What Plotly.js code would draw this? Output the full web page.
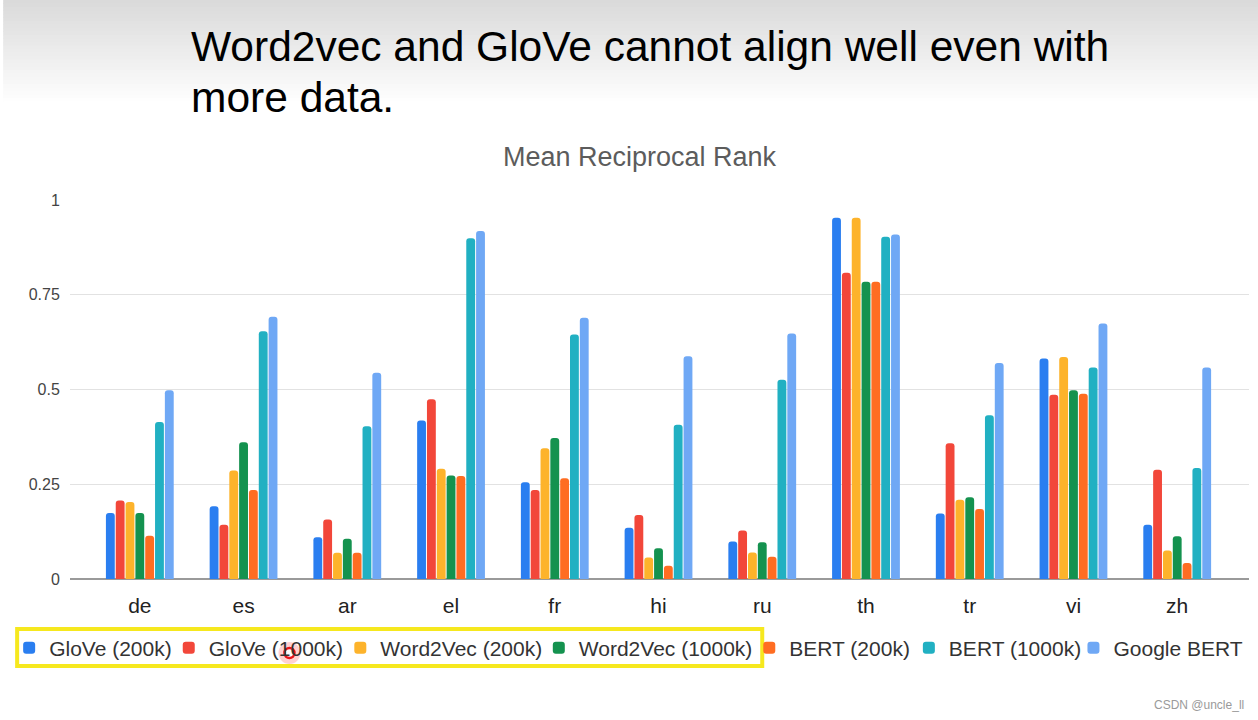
<!DOCTYPE html>
<html>
<head>
<meta charset="utf-8">
<script src="https://cdn.plot.ly/plotly-3.0.1.min.js"></script>
<style>
html,body{margin:0;padding:0;background:#fff;}
#chart{width:1258px;height:720px;}
</style>
</head>
<body>
<div id="chart"></div>
<script>
// ---- data ----
const categories = ['de','es','ar','el','fr','hi','ru','th','tr','vi','zh'];
const seriesNames = ['GloVe (200k)','GloVe (1000k)','Word2Vec (200k)','Word2Vec (1000k)','BERT (200k)','BERT (1000k)','Google BERT'];
const glove200   = [0.174,0.192,0.110,0.418,0.255,0.135,0.099,0.953,0.173,0.582,0.143];
const glove1000  = [0.207,0.143,0.157,0.474,0.235,0.169,0.128,0.808,0.358,0.486,0.288];
const w2v200     = [0.203,0.286,0.069,0.291,0.345,0.057,0.070,0.953,0.209,0.586,0.075];
const w2v1000    = [0.174,0.361,0.106,0.273,0.372,0.081,0.097,0.784,0.216,0.498,0.113];
const bert200    = [0.114,0.235,0.069,0.272,0.266,0.035,0.059,0.784,0.185,0.489,0.042];
const bert1000   = [0.414,0.654,0.403,0.899,0.645,0.407,0.526,0.903,0.432,0.558,0.293];
const googleBert = [0.498,0.692,0.544,0.918,0.689,0.588,0.648,0.909,0.570,0.674,0.558];
const yTickVals  = [0, 0.25, 0.5, 0.75, 1];
const yTickText  = ['0', '0.25', '0.5', '0.75', '1'];
const slideTitle1 = 'Word2vec and GloVe cannot align well even with';
const slideTitle2 = 'more data.';
const chartTitle = 'Mean Reciprocal Rank';
const watermark = 'CSDN @uncle_ll';

// ---- styling ----
const colors = ['#2a7ef0','#f2473a','#fdb32b','#14924f','#ff6d22','#21b0c2','#6fa8f5'];
const values = [glove200, glove1000, w2v200, w2v1000, bert200, bert1000, googleBert];
const FONT = 'Liberation Sans, Arial, sans-serif';

const W = 1258, H = 720;
const L = 67, R = 9, T = 200, B = 141;
const PW = W - L - R, PH = H - T - B;
const px = x => (x - L) / PW;
const py = y => (H - B - y) / PH;

const legendTextStart = [46, 206, 378, 577, 788, 948, 1113];

const traces = values.map((v, i) => ({
  type: 'bar',
  name: seriesNames[i],
  x: categories,
  y: v,
  marker: {color: colors[i], cornerradius: 3},
  legend: i === 0 ? 'legend' : 'legend' + (i + 1),
  showlegend: true,
  hoverinfo: 'skip'
}));

const layout = {
  width: W, height: H,
  margin: {l: L, r: R, t: T, b: B, pad: 0},
  paper_bgcolor: '#ffffff',
  plot_bgcolor: '#ffffff',
  showlegend: true,
  barmode: 'group',
  bargap: 0.337,
  bargroupgap: 0.1,
  font: {family: FONT, color: '#333'},
  xaxis: {
    type: 'category',
    range: [-0.673, 10.692],
    showgrid: false,
    showline: false,
    zeroline: false,
    ticks: 'outside', ticklen: 8, tickcolor: 'rgba(0,0,0,0)',
    tickfont: {family: FONT, size: 21, color: '#222'},
    fixedrange: true
  },
  yaxis: {
    range: [0, 1],
    tickvals: yTickVals,
    ticktext: yTickText,
    showgrid: true,
    gridcolor: '#e2e2e2',
    gridwidth: 1,
    zeroline: true,
    zerolinecolor: '#9a9a9a',
    zerolinewidth: 1.5,
    showline: false,
    ticks: 'outside', ticklen: 6, tickcolor: 'rgba(0,0,0,0)',
    tickfont: {family: FONT, size: 16, color: '#444'},
    fixedrange: true
  },
  shapes: [],
  annotations: [
    {text: slideTitle1, xref: 'paper', yref: 'paper', x: px(186), y: py(46), xanchor: 'left', yanchor: 'middle',
     showarrow: false, font: {family: FONT, size: 42.5, color: '#000'}},
    {text: slideTitle2, xref: 'paper', yref: 'paper', x: px(186), y: py(97), xanchor: 'left', yanchor: 'middle',
     showarrow: false, font: {family: FONT, size: 42.5, color: '#000'}},
    {text: chartTitle, xref: 'paper', yref: 'paper', x: px(638), y: py(157), xanchor: 'center', yanchor: 'middle',
     showarrow: false, font: {family: FONT, size: 27, color: '#5c5c5c'}},
    {text: watermark, xref: 'paper', yref: 'paper', x: px(1246), y: py(705), xanchor: 'right', yanchor: 'middle',
     showarrow: false, font: {family: FONT, size: 12, color: '#9a9a9a'}}
  ]
};

// top grey gradient band (slide background)
const nb = 30, gTop = 0, gBot = 105;
for (let k = 0; k < nb; k++) {
  const t = k / (nb - 1);
  const c = Math.round(218 + (255 - 218) * t);
  layout.shapes.push({
    type: 'rect', xref: 'paper', yref: 'paper', layer: 'below',
    x0: px(0), x1: px(W), y0: py(gTop + (k + 1) * (gBot - gTop) / nb + 0.5), y1: py(gTop + k * (gBot - gTop) / nb),
    line: {width: 0}, fillcolor: `rgb(${c},${c},${c})`
  });
}

// yellow highlight box around first four legend items
layout.shapes.push({
  type: 'rect', xref: 'paper', yref: 'paper', layer: 'above',
  x0: px(14), x1: px(761), y0: py(666), y1: py(629),
  line: {color: '#f6e81e', width: 4}, fillcolor: 'rgba(0,0,0,0)'
});
// red cursor marker
layout.shapes.push({
  type: 'circle', xref: 'paper', yref: 'paper', layer: 'above',
  x0: px(276), x1: px(298), y0: py(664), y1: py(642),
  line: {width: 0}, fillcolor: 'rgba(255,90,90,0.28)'
});
layout.shapes.push({
  type: 'circle', xref: 'paper', yref: 'paper', layer: 'above',
  x0: px(282), x1: px(292), y0: py(658), y1: py(648),
  line: {color: '#e8141a', width: 2.5}, fillcolor: 'rgba(255,255,255,0.9)'
});

// one legend per series to place items like the reference
legendTextStart.forEach((xs, i) => {
  const key = i === 0 ? 'legend' : 'legend' + (i + 1);
  layout[key] = {
    visible: true,
    orientation: 'h',
    x: px(xs - 40), xanchor: 'left', xref: 'paper',
    y: py(648), yanchor: 'middle', yref: 'paper',
    bgcolor: 'rgba(0,0,0,0)', borderwidth: 0,
    font: {family: FONT, size: 21, color: '#333'},
    itemclick: false, itemdoubleclick: false
  };
});

Plotly.newPlot('chart', traces, layout, {staticPlot: true, displayModeBar: false});
</script>
</body>
</html>
